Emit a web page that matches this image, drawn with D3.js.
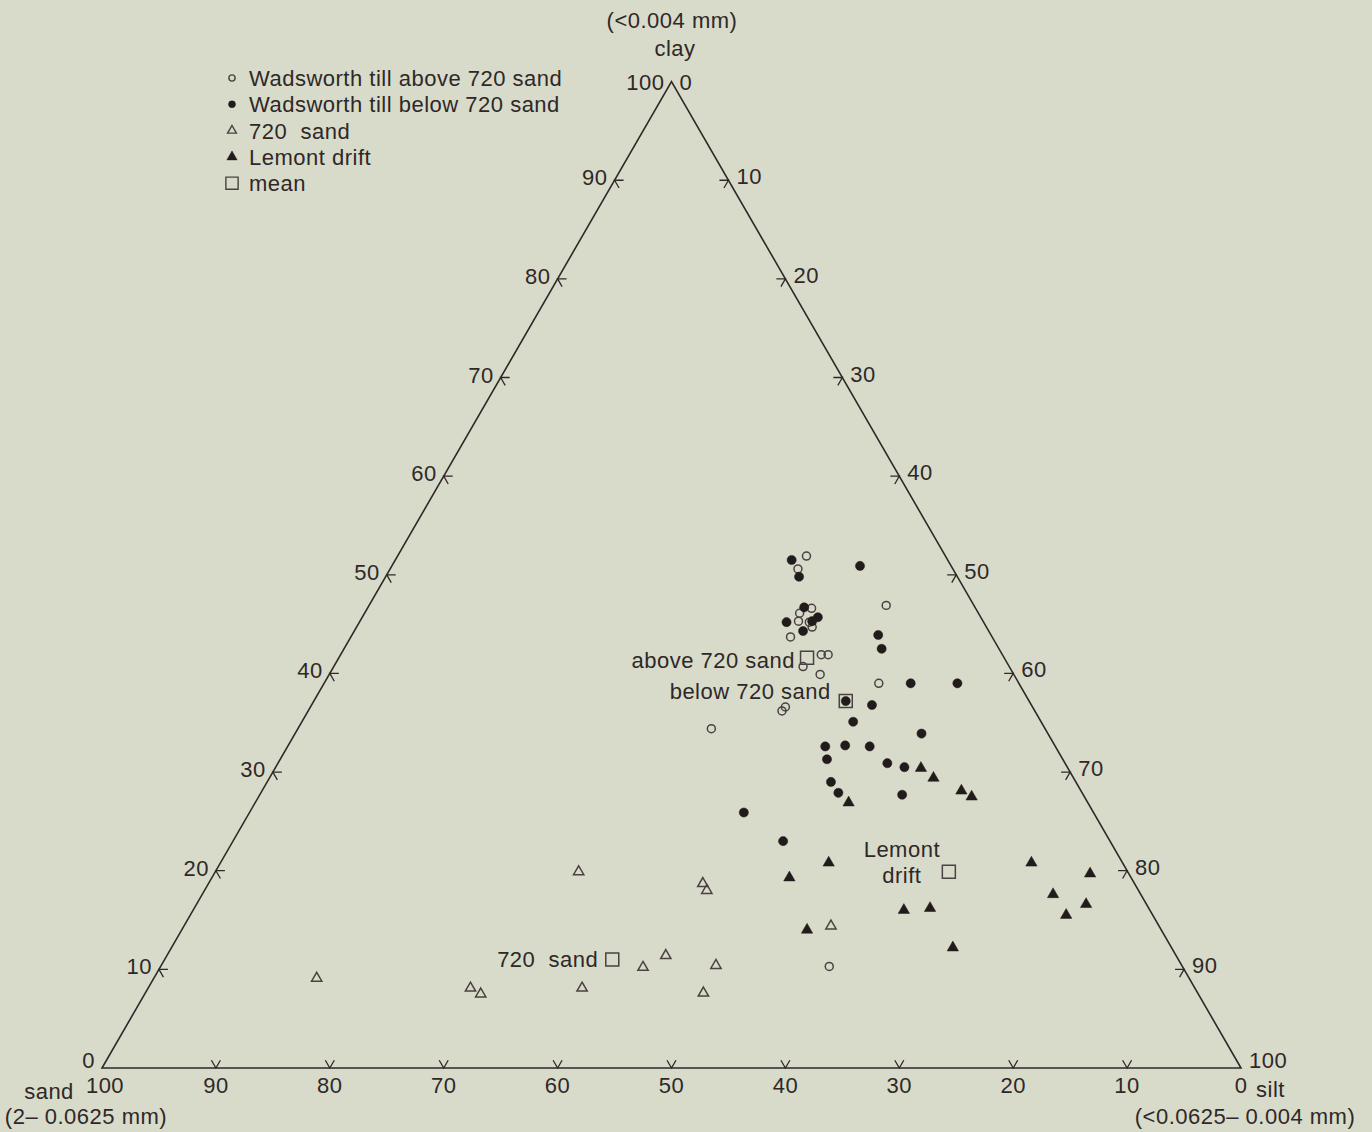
<!DOCTYPE html>
<html>
<head>
<meta charset="utf-8">
<script src="https://cdn.jsdelivr.net/npm/d3@7"></script>
<style>
  html, body { margin: 0; padding: 0; background: #d8dbca; }
  svg { display: block; font-family: "Liberation Sans", Arial, Helvetica, sans-serif; }
  text { white-space: pre; }
</style>
</head>
<body>
<script>
// compositions as [sand, silt, clay] in percent
const aboveSand = [
  [12.2, 35.9, 51.9], [13.6, 35.8, 50.6], [14.4, 39.0, 46.6], [15.7, 38.2, 46.1],
  [16.2, 38.5, 45.3], [15.3, 39.5, 45.2], [15.3, 40.0, 44.7], [17.7, 38.6, 43.7],
  [15.9, 42.2, 41.9], [15.3, 42.8, 41.9], [18.1, 41.2, 40.7], [17.0, 43.1, 39.9],
  [22.2, 41.6, 36.2], [21.7, 41.7, 36.6], [29.3, 36.3, 34.4], [7.7, 45.4, 46.9],
  [12.3, 48.7, 39.0], [31.0, 58.7, 10.3]
];
const belowSand = [
  [13.7, 34.8, 51.5], [13.9, 36.3, 49.8], [8.0, 41.1, 50.9], [15.0, 38.3, 46.7],
  [14.3, 40.0, 45.7], [15.0, 39.7, 45.3], [17.3, 37.5, 45.2], [16.3, 39.4, 44.3],
  [9.9, 46.2, 43.9], [10.3, 47.2, 42.5], [9.5, 51.5, 39.0], [5.4, 55.6, 39.0],
  [16.1, 46.7, 37.2], [14.0, 49.2, 36.8], [16.5, 48.4, 35.1], [11.1, 55.0, 33.9],
  [20.2, 47.2, 32.6], [18.4, 48.9, 32.7], [16.3, 51.1, 32.6], [20.7, 48.0, 31.3],
  [15.6, 53.5, 30.9], [14.3, 55.2, 30.5], [21.5, 49.5, 29.0], [21.4, 50.7, 27.9],
  [15.9, 56.4, 27.7], [30.7, 43.4, 25.9], [28.7, 48.3, 23.0]
];
const sand720 = [
  [48.2, 31.9, 19.9], [37.9, 43.4, 18.7], [37.9, 44.1, 18.0], [76.6, 14.3, 9.1],
  [63.6, 28.3, 8.1], [63.0, 29.5, 7.5], [53.8, 38.1, 8.1], [47.4, 42.4, 10.2],
  [44.8, 43.8, 11.4], [40.9, 48.7, 10.4], [43.4, 49.0, 7.6], [28.8, 56.8, 14.4]
];
const lemont = [
  [12.9, 56.7, 30.4], [12.3, 58.3, 29.4], [10.5, 61.4, 28.1], [9.9, 62.6, 27.5],
  [21.0, 52.1, 26.9], [25.8, 53.4, 20.8], [30.0, 50.7, 19.3], [21.6, 62.4, 16.0],
  [19.2, 64.6, 16.2], [31.1, 54.9, 14.0], [19.2, 68.6, 12.2], [8.0, 71.2, 20.8],
  [3.4, 76.9, 19.7], [7.7, 74.7, 17.6], [5.3, 78.1, 16.6], [7.6, 76.9, 15.5]
];
const meanNames = ["above 720 sand", "below 720 sand", "Lemont drift", "720  sand"];
const meanValues = [
  [17.3, 41.1, 41.6], [16.1, 46.7, 37.2], [15.7, 64.4, 19.9], [49.7, 39.3, 11.0]
];
const legendLabels = [
  "Wadsworth till above 720 sand", "Wadsworth till below 720 sand",
  "720  sand", "Lemont drift", "mean"
];
const tickValues = [10, 20, 30, 40, 50, 60, 70, 80, 90];
const labelValues = [0, 10, 20, 30, 40, 50, 60, 70, 80, 90, 100];

const W = 1372, H = 1132;
const ink = "#2f2828";
const side = 1139;
const x = d3.scaleLinear().domain([0, 100]).range([102, 102 + side]);
const y = d3.scaleLinear().domain([0, 100]).range([1068, 1068 - side * Math.sqrt(3) / 2]);
const proj = d => [x(d[1] + d[2] / 2), y(d[2])];

const svg = d3.select("body").append("svg")
  .attr("width", W).attr("height", H);

svg.append("rect").attr("width", W).attr("height", H).attr("fill", "#d8dbca");

const txt = svg.append("g")
  .attr("fill", ink)
  .style("font-size", "22px")
  .style("letter-spacing", "0.5px");

// triangle frame
const corners = [[100, 0, 0], [0, 100, 0], [0, 0, 100]].map(proj);
svg.append("path")
  .attr("d", d3.line()(corners) + "Z")
  .attr("fill", "none").attr("stroke", ink).attr("stroke-width", 1.6);

// chevron ticks, arms at +-30deg around inward normal
function chevron(p, normalDeg) {
  const len = 9;
  const a1 = (normalDeg - 30) * Math.PI / 180, a2 = (normalDeg + 30) * Math.PI / 180;
  return d3.line()([
    [p[0] + len * Math.cos(a1), p[1] + len * Math.sin(a1)],
    p,
    [p[0] + len * Math.cos(a2), p[1] + len * Math.sin(a2)]
  ]);
}
const ticks = svg.append("g").attr("fill", "none").attr("stroke", ink).attr("stroke-width", 1.3);
tickValues.forEach(k => {
  ticks.append("path").attr("d", chevron(proj([100 - k, 0, k]), 30));   // clay, left
  ticks.append("path").attr("d", chevron(proj([k, 100 - k, 0]), -90));  // sand, bottom
  ticks.append("path").attr("d", chevron(proj([0, k, 100 - k]), 150));  // silt, right
});

// tick labels
labelValues.forEach(k => {
  const pl = proj([100 - k, 0, k]);
  txt.append("text").attr("x", pl[0] - 7).attr("y", pl[1] + (k === 0 ? 0 : k === 100 ? 8 : 5))
    .attr("text-anchor", "end").text(k);
  const pb = proj([k, 100 - k, 0]);
  txt.append("text").attr("x", pb[0] + (k === 100 ? 3 : 0)).attr("y", pb[1] + 25)
    .attr("text-anchor", "middle").text(k);
  const pr = proj([0, k, 100 - k]);
  txt.append("text").attr("x", pr[0] + 8).attr("y", pr[1] + (k === 100 ? 0 : k === 0 ? 8 : 4))
    .attr("text-anchor", "start").text(k);
});

// axis titles
txt.append("text").attr("x", 672).attr("y", 28).attr("text-anchor", "middle").text("(<0.004 mm)");
txt.append("text").attr("x", 675).attr("y", 56).attr("text-anchor", "middle").text("clay");
txt.append("text").attr("x", 49).attr("y", 1099).attr("text-anchor", "middle").text("sand");
txt.append("text").attr("x", 86).attr("y", 1124).attr("text-anchor", "middle").text("(2\u2013 0.0625 mm)");
txt.append("text").attr("x", 1256).attr("y", 1097).attr("text-anchor", "start").text("silt");
txt.append("text").attr("x", 1245).attr("y", 1124).attr("text-anchor", "middle").text("(<0.0625\u2013 0.004 mm)");

// markers
const sym = (type, size) => d3.symbol().type(type).size(size)();
const marks = svg.append("g");
function plot(data, type, size, filled) {
  marks.selectAll(null).data(data).enter().append("path")
    .attr("d", sym(type, size))
    .attr("transform", d => `translate(${proj(d)})`)
    .attr("fill", filled ? "#221b1b" : "none")
    .attr("stroke", filled ? "#221b1b" : "#4a4242")
    .attr("stroke-width", filled ? 0.5 : 1.5);
}
plot(aboveSand, d3.symbolCircle, 50, false);
plot(belowSand, d3.symbolCircle, 66, true);
plot(sand720, d3.symbolTriangle, 46, false);
plot(lemont, d3.symbolTriangle, 56, true);
plot(meanValues, d3.symbolSquare, 169, false);

// mean labels
const meanLabelPos = [
  { dx: -12, dy: 10, anchor: "end" },
  { dx: -15, dy: -2, anchor: "end" },
  { dx: -47, dy: -15, anchor: "middle" },
  { dx: -14, dy: 8, anchor: "end" }
];
meanNames.forEach((name, i) => {
  const p = proj(meanValues[i]);
  const o = meanLabelPos[i];
  if (name === "Lemont drift") {
    txt.append("text").attr("x", p[0] + o.dx).attr("y", p[1] + o.dy)
      .attr("text-anchor", o.anchor).text("Lemont");
    txt.append("text").attr("x", p[0] + o.dx).attr("y", p[1] + o.dy + 26)
      .attr("text-anchor", o.anchor).text("drift");
  } else {
    txt.append("text").attr("x", p[0] + o.dx).attr("y", p[1] + o.dy)
      .attr("text-anchor", o.anchor).text(name);
  }
});

// legend
const legendSyms = [
  { type: d3.symbolCircle, size: 30, filled: false },
  { type: d3.symbolCircle, size: 38, filled: true },
  { type: d3.symbolTriangle, size: 34, filled: false },
  { type: d3.symbolTriangle, size: 46, filled: true },
  { type: d3.symbolSquare, size: 150, filled: false }
];
const legend = svg.append("g");
legendLabels.forEach((lab, i) => {
  const cy = 78 + i * 26.3;
  const s = legendSyms[i];
  legend.append("path")
    .attr("d", sym(s.type, s.size))
    .attr("transform", `translate(232,${cy})`)
    .attr("fill", s.filled ? "#221b1b" : "none")
    .attr("stroke", s.filled ? "#221b1b" : "#4a4242")
    .attr("stroke-width", s.filled ? 0.5 : 1.4);
  txt.append("text").attr("x", 249).attr("y", cy + 8).text(lab);
});
</script>
</body>
</html>
